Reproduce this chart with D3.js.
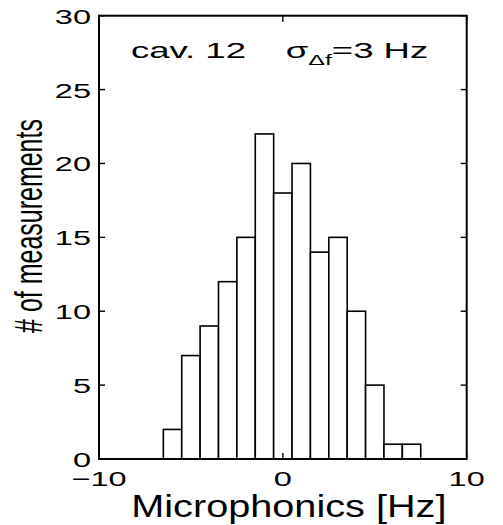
<!DOCTYPE html>
<meta charset="utf-8">
<title>Microphonics histogram</title>
<style>
body { margin: 0; background: #fff; }
svg text { font-family: "Liberation Sans", Arial, Helvetica, sans-serif; fill: #000; }
</style>
<body>
<script src="https://cdn.jsdelivr.net/npm/d3@7"></script>
<script>
// histogram bins (centres in Hz) and counts
const binCentres = [-6, -5, -4, -3, -2, -1, 0, 1, 2, 3, 4, 5, 6, 7];
const counts     = [ 2,  7,  9, 12, 15, 22, 18, 20, 14, 15, 10, 5, 1, 1];
const xTicks = [-10, 0, 10];
const yTicks = [0, 5, 10, 15, 20, 25, 30];
const binWidth = 1;

const W = 503, H = 525;
const margin = {top: 15.7, right: 36.3, bottom: 66, left: 99};

const svg = d3.select("body").append("svg")
    .attr("width", W).attr("height", H);

const x = d3.scaleLinear().domain([-10, 10]).range([margin.left, W - margin.right]);
const y = d3.scaleLinear().domain([0, 30]).range([H - margin.bottom, margin.top]);

// bars
svg.append("g").selectAll("rect")
  .data(binCentres)
  .enter().append("rect")
    .attr("x", (d) => x(d - binWidth / 2))
    .attr("width", (d) => x(d + binWidth / 2) - x(d - binWidth / 2))
    .attr("y", (d, i) => y(counts[i]))
    .attr("height", (d, i) => y(0) - y(counts[i]))
    .attr("fill", "#fff")
    .attr("stroke", "#000")
    .attr("stroke-width", 1.6);

// ticks, inward on all four sides
const tk = 6;
const g = svg.append("g").attr("stroke", "#000").attr("stroke-width", 1.4);
xTicks.forEach((t) => {
  g.append("line").attr("x1", x(t)).attr("x2", x(t)).attr("y1", y(0)).attr("y2", y(0) - tk);
  g.append("line").attr("x1", x(t)).attr("x2", x(t)).attr("y1", y(30)).attr("y2", y(30) + tk);
});
yTicks.forEach((t) => {
  g.append("line").attr("x1", x(-10)).attr("x2", x(-10) + tk).attr("y1", y(t)).attr("y2", y(t));
  g.append("line").attr("x1", x(10)).attr("x2", x(10) - tk).attr("y1", y(t)).attr("y2", y(t));
});

// box
svg.append("rect")
    .attr("x", x(-10)).attr("y", y(30))
    .attr("width", x(10) - x(-10)).attr("height", y(0) - y(30))
    .attr("fill", "none").attr("stroke", "#000").attr("stroke-width", 2);

// the picture is stretched sideways, so text gets a horizontal scale
const sx = 1.55;

svg.append("g").selectAll("text")
  .data(yTicks)
  .enter().append("text")
    .attr("transform", (d) => `translate(${x(-10) - 8},${y(d) + 8}) scale(${sx},1)`)
    .attr("text-anchor", "end")
    .style("font-size", "21px")
    .text((d) => d);

svg.append("g").selectAll("text")
  .data(xTicks)
  .enter().append("text")
    .attr("transform", (d) => `translate(${x(d)},${y(0) + 27}) scale(${sx},1)`)
    .attr("text-anchor", "middle")
    .style("font-size", "21px")
    .text((d) => d < 0 ? "\u2212" + Math.abs(d) : d);

// axis labels
svg.append("text")
    .attr("transform", `translate(${(x(-10) + x(10)) / 2 + 6},517) scale(1.24,1)`)
    .attr("text-anchor", "middle")
    .style("font-size", "32px")
    .text("Microphonics [Hz]");

svg.append("text")
    .attr("transform", "translate(42,226) rotate(-90) scale(1,1.55)")
    .attr("text-anchor", "middle")
    .style("font-size", "25px")
    .text("# of measurements");

// annotation
const note = svg.append("text")
    .attr("transform", "translate(131,58) scale(1.66,1)")
    .style("font-size", "22px");
note.append("tspan").text("cav. 12");
note.append("tspan").attr("dx", 24).text("\u03c3");
note.append("tspan").attr("dy", 7).style("font-size", "15px").text("\u0394f");
note.append("tspan").attr("dy", -7).text("=3 Hz");
</script>
</body>
